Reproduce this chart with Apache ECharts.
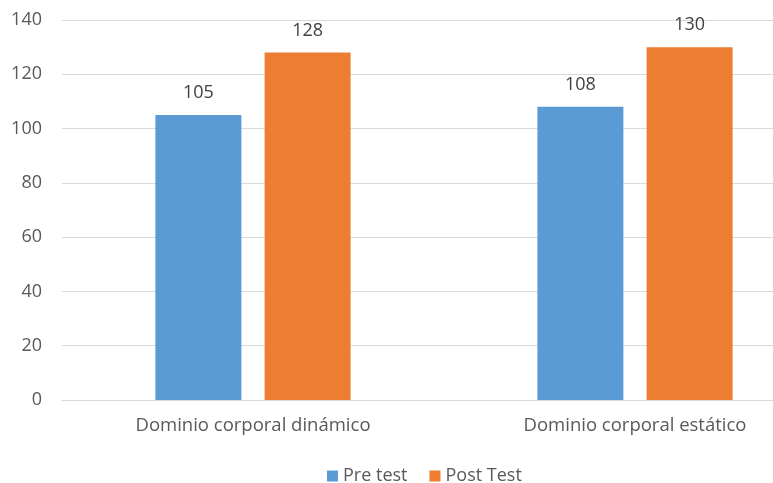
<!DOCTYPE html>
<html>
<head>
<meta charset="utf-8">
<script src="https://cdn.jsdelivr.net/npm/echarts@6/dist/echarts.min.js"></script>
<style>
  html, body { margin: 0; padding: 0; background: #fff; overflow: hidden; }
  #chart { width: 773px; height: 483px; }
</style>
</head>
<body>
<div id="chart"></div>
<script>
// Categories and scores per test
const categories = ['Dominio corporal dinámico', 'Dominio corporal estático'];
const preTest = [105, 108];
const postTest = [128, 130];
const seriesNames = ['Pre test', 'Post Test'];

const FONT = '"Open Sans", "Noto Sans", sans-serif';
const chart = echarts.init(document.getElementById('chart'));

const labelStyle = {
  show: true,
  position: 'top',
  distance: 13,
  color: '#404040',
  fontSize: 18,
  fontFamily: FONT
};

chart.setOption({
  animation: false,
  // plot area runs past the right edge of the canvas
  grid: { left: 62, width: 764, top: 20, bottom: 83, outerBoundsMode: 'none' },
  legend: {
    left: 322,
    top: 462,
    itemWidth: 11,
    itemHeight: 11,
    itemGap: 22,
    icon: 'rect',
    textStyle: { color: '#595959', fontSize: 18, fontFamily: FONT },
    data: seriesNames
  },
  xAxis: {
    type: 'category',
    data: categories,
    axisLine: { lineStyle: { color: '#d9d9d9' } },
    axisTick: { show: false },
    axisLabel: { color: '#595959', fontSize: 18.5, fontFamily: FONT, margin: 16 }
  },
  yAxis: {
    type: 'value',
    min: 0,
    max: 140,
    interval: 20,
    axisLine: { show: false },
    axisTick: { show: false },
    splitLine: { lineStyle: { color: '#d9d9d9', width: 1 } },
    axisLabel: { color: '#595959', fontSize: 18, fontFamily: FONT, margin: 20 }
  },
  series: [
    {
      name: seriesNames[0],
      type: 'bar',
      data: preTest,
      barWidth: 86,
      barGap: '27%',
      itemStyle: { color: '#5b9bd5' },
      label: labelStyle
    },
    {
      name: seriesNames[1],
      type: 'bar',
      data: postTest,
      barWidth: 86,
      itemStyle: { color: '#ed7d31' },
      label: labelStyle
    }
  ]
});
</script>
</body>
</html>
